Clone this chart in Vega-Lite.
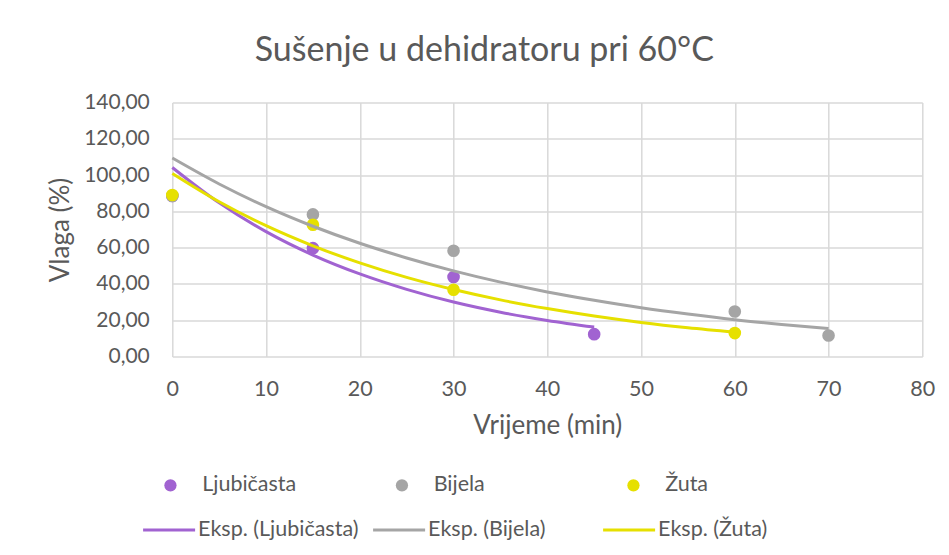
{
  "$schema": "https://vega.github.io/schema/vega-lite/v6.json",
  "width": 750,
  "height": 254,
  "autosize": {"type": "none"},
  "padding": {"left": 172.3, "top": 102.5, "right": 26.7, "bottom": 198.5},
  "background": "white",
  "title": {
    "text": "Sušenje u dehidratoru pri 60°C",
    "font": "Lato",
    "fontSize": 34,
    "fontWeight": "normal",
    "color": "#595959",
    "anchor": "middle",
    "dx": -63,
    "baseline": "alphabetic",
    "offset": -3
  },
  "datasets": {
    "points": [
      {"t": 0, "v": 88.5, "s": "Ljubičasta"},
      {"t": 15, "v": 59.7, "s": "Ljubičasta"},
      {"t": 30, "v": 43.8, "s": "Ljubičasta"},
      {"t": 45, "v": 12.3, "s": "Ljubičasta"},
      {"t": 0, "v": 88.5, "s": "Bijela"},
      {"t": 15, "v": 78.3, "s": "Bijela"},
      {"t": 30, "v": 58.3, "s": "Bijela"},
      {"t": 60, "v": 24.8, "s": "Bijela"},
      {"t": 70, "v": 11.6, "s": "Bijela"},
      {"t": 0, "v": 89.0, "s": "Žuta"},
      {"t": 15, "v": 72.6, "s": "Žuta"},
      {"t": 30, "v": 36.8, "s": "Žuta"},
      {"t": 60, "v": 12.9, "s": "Žuta"}
    ],
    "trend": [
      {"t": 0, "v": 104.2, "s": "Eksp. (Ljubičasta)"},
      {"t": 5, "v": 84.7, "s": "Eksp. (Ljubičasta)"},
      {"t": 10, "v": 68.8, "s": "Eksp. (Ljubičasta)"},
      {"t": 15, "v": 55.9, "s": "Eksp. (Ljubičasta)"},
      {"t": 20, "v": 45.5, "s": "Eksp. (Ljubičasta)"},
      {"t": 25, "v": 37.0, "s": "Eksp. (Ljubičasta)"},
      {"t": 30, "v": 30.0, "s": "Eksp. (Ljubičasta)"},
      {"t": 35, "v": 24.4, "s": "Eksp. (Ljubičasta)"},
      {"t": 40, "v": 19.9, "s": "Eksp. (Ljubičasta)"},
      {"t": 45, "v": 16.2, "s": "Eksp. (Ljubičasta)"},
      {"t": 0, "v": 109.4, "s": "Eksp. (Bijela)"},
      {"t": 5, "v": 95.1, "s": "Eksp. (Bijela)"},
      {"t": 10, "v": 82.6, "s": "Eksp. (Bijela)"},
      {"t": 15, "v": 71.8, "s": "Eksp. (Bijela)"},
      {"t": 20, "v": 62.4, "s": "Eksp. (Bijela)"},
      {"t": 25, "v": 54.3, "s": "Eksp. (Bijela)"},
      {"t": 30, "v": 47.2, "s": "Eksp. (Bijela)"},
      {"t": 35, "v": 41.0, "s": "Eksp. (Bijela)"},
      {"t": 40, "v": 35.6, "s": "Eksp. (Bijela)"},
      {"t": 45, "v": 31.0, "s": "Eksp. (Bijela)"},
      {"t": 50, "v": 26.9, "s": "Eksp. (Bijela)"},
      {"t": 55, "v": 23.4, "s": "Eksp. (Bijela)"},
      {"t": 60, "v": 20.3, "s": "Eksp. (Bijela)"},
      {"t": 65, "v": 17.7, "s": "Eksp. (Bijela)"},
      {"t": 70, "v": 15.4, "s": "Eksp. (Bijela)"},
      {"t": 0, "v": 100.9, "s": "Eksp. (Žuta)"},
      {"t": 5, "v": 85.3, "s": "Eksp. (Žuta)"},
      {"t": 10, "v": 72.1, "s": "Eksp. (Žuta)"},
      {"t": 15, "v": 61.0, "s": "Eksp. (Žuta)"},
      {"t": 20, "v": 51.6, "s": "Eksp. (Žuta)"},
      {"t": 25, "v": 43.6, "s": "Eksp. (Žuta)"},
      {"t": 30, "v": 36.9, "s": "Eksp. (Žuta)"},
      {"t": 35, "v": 31.2, "s": "Eksp. (Žuta)"},
      {"t": 40, "v": 26.4, "s": "Eksp. (Žuta)"},
      {"t": 45, "v": 22.3, "s": "Eksp. (Žuta)"},
      {"t": 50, "v": 18.8, "s": "Eksp. (Žuta)"},
      {"t": 55, "v": 15.9, "s": "Eksp. (Žuta)"},
      {"t": 60, "v": 13.5, "s": "Eksp. (Žuta)"}
    ]
  },
  "encoding": {
    "x": {
      "field": "t",
      "type": "quantitative",
      "scale": {"domain": [0, 80], "nice": false},
      "axis": {
        "values": [0, 10, 20, 30, 40, 50, 60, 70, 80],
        "title": "Vrijeme (min)",
        "grid": true,
        "gridColor": "#d9d9d9",
        "gridWidth": 1.5,
        "domain": false,
        "ticks": false,
        "labelFlush": false,
        "labelOverlap": false,
        "labelPadding": 22,
        "labelFont": "Lato",
        "labelFontSize": 21.5,
        "labelColor": "#595959",
        "titleFont": "Lato",
        "titleFontSize": 26,
        "titleFontWeight": "normal",
        "titleColor": "#595959",
        "titlePadding": 12
      }
    },
    "y": {
      "field": "v",
      "type": "quantitative",
      "scale": {"domain": [0, 140], "nice": false},
      "axis": {
        "values": [0, 20, 40, 60, 80, 100, 120, 140],
        "labelExpr": "replace(format(datum.value, '.2f'), '.', ',')",
        "title": "Vlaga (%)",
        "grid": true,
        "gridColor": "#d9d9d9",
        "gridWidth": 1.5,
        "domain": false,
        "ticks": false,
        "labelFlush": false,
        "labelOverlap": false,
        "labelPadding": 23,
        "labelFont": "Lato",
        "labelFontSize": 21,
        "labelColor": "#595959",
        "titleFont": "Lato",
        "titleFontSize": 26,
        "titleFontWeight": "normal",
        "titleColor": "#595959",
        "titlePadding": 10
      }
    }
  },
  "layer": [
    {
      "data": {"name": "points"},
      "mark": {"type": "point", "filled": true, "size": 160, "opacity": 1, "strokeWidth": 0},
      "encoding": {
        "fill": {
          "field": "s",
          "type": "nominal",
          "sort": null,
          "scale": {"domain": ["Ljubičasta", "Bijela", "Žuta"], "range": ["#A163D1", "#A5A5A5", "#E6E000"]},
          "legend": {
            "title": null,
            "orient": "none",
            "direction": "horizontal",
            "columns": 3,
            "gridAlign": "all",
            "columnPadding": 94.5,
            "legendX": -12.6,
            "legendY": 371.7,
            "symbolType": "circle",
            "symbolSize": 150,
            "symbolStrokeWidth": 0,
            "labelOffset": 21,
            "labelLimit": 300,
            "labelFont": "Lato",
            "labelFontSize": 21.5,
            "labelColor": "#595959"
          }
        }
      }
    },
    {
      "data": {"name": "trend"},
      "mark": {"type": "line", "strokeWidth": 3, "interpolate": "monotone"},
      "encoding": {
        "stroke": {
          "field": "s",
          "type": "nominal",
          "sort": null,
          "scale": {"domain": ["Eksp. (Ljubičasta)", "Eksp. (Bijela)", "Eksp. (Žuta)"], "range": ["#A163D1", "#A5A5A5", "#E6E000"]},
          "legend": {
            "title": null,
            "orient": "none",
            "direction": "horizontal",
            "columns": 3,
            "gridAlign": "all",
            "columnPadding": 8,
            "legendX": -30.7,
            "legendY": 400,
            "symbolType": "stroke",
            "symbolSize": 2704,
            "symbolStrokeWidth": 3,
            "labelOffset": 1.5,
            "labelLimit": 300,
            "labelFont": "Lato",
            "labelFontSize": 21.5,
            "labelColor": "#595959"
          }
        }
      }
    }
  ],
  "config": {
    "view": {"stroke": null}
  }
}
